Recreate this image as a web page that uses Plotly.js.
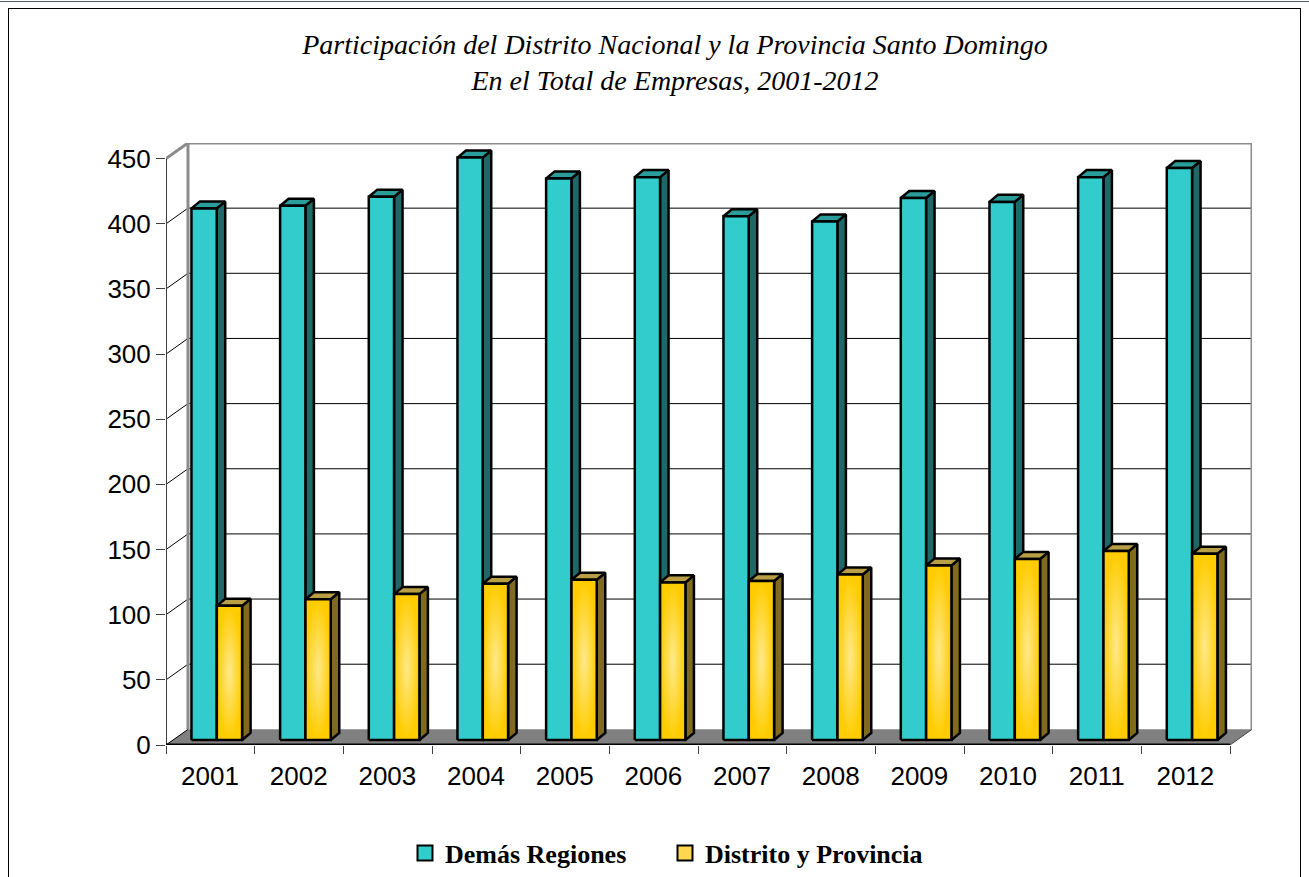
<!DOCTYPE html>
<html>
<head>
<meta charset="utf-8">
<script src="https://cdn.plot.ly/plotly-3.0.1.min.js"></script>
<style>
  html, body { margin: 0; padding: 0; background: #fff; }
  #wrap { position: relative; width: 1309px; height: 877px; overflow: hidden; }
  #chart { position: absolute; left: 0; top: 0; width: 1309px; height: 877px; }
  #frame { position: absolute; left: 8px; top: 8px; width: 1291px; height: 900px; border: 1px solid #000; pointer-events: none; }
  #topline { position: absolute; left: 0; top: 1px; width: 1309px; height: 1px; background: #4a5a6a; pointer-events: none; }
</style>
</head>
<body>
<div id="wrap">
  <div id="chart"></div>
  <div id="frame"></div>
  <div id="topline"></div>
</div>
<script>
// ---- Data ----
const categories = ['2001','2002','2003','2004','2005','2006','2007','2008','2009','2010','2011','2012'];
const demasRegiones = [408, 410, 417, 447, 431, 432, 402, 398, 416, 413, 432, 439];
const distritoProvincia = [103, 108, 112, 120, 123, 121, 122, 127, 134, 139, 145, 143];
const yTickValues = [0, 50, 100, 150, 200, 250, 300, 350, 400, 450];
const seriesNames = ['Demás Regiones', 'Distrito y Provincia'];

// ---- 3D look (style constants, in axis units) ----
const N = categories.length;
const XL = -0.5, XR = N - 0.5;
const BX = 0.248, BY = 12;          // back wall offset
const BAR_W = 0.285;
const OFF_A = -0.213, OFF_B = 0.073; // bar front-face left offsets
const BASE = 3.8;                    // bar base (depth into floor)
const SDX = 0.096, SDY = 5.4;        // bar depth
const YMAX = yTickValues[yTickValues.length - 1];

function faces(values, off, kind) {
  const xs = [], ys = [];
  values.forEach((v, i) => {
    const x0 = i + off, x1 = x0 + BAR_W, b = BASE, t = BASE + v;
    let px, py;
    if (kind === 'front') { px = [x0, x0, x1, x1, x0]; py = [b, t, t, b, b]; }
    else if (kind === 'side') { px = [x1, x1 + SDX, x1 + SDX, x1, x1]; py = [b, b + SDY, t + SDY, t, b]; }
    else { px = [x0, x0 + SDX, x1 + SDX, x1, x0]; py = [t, t + SDY, t + SDY, t, t]; }
    xs.push(...px, null); ys.push(...py, null);
  });
  return { x: xs, y: ys };
}

const LINE = { color: '#000', width: 2.5 };
function polyTrace(xy, color, extra) {
  return Object.assign({
    type: 'scatter', mode: 'lines', x: xy.x, y: xy.y, fill: 'toself', fillcolor: color,
    line: LINE, hoverinfo: 'skip', showlegend: false, connectgaps: false
  }, extra || {});
}

const traces = [];
// Series A (teal)
traces.push(polyTrace(faces(demasRegiones, OFF_A, 'side'), '#1F6868'));
traces.push(polyTrace(faces(demasRegiones, OFF_A, 'top'), '#2A9C9A'));
traces.push(polyTrace(faces(demasRegiones, OFF_A, 'front'), '#33CCCC'));
// Series B (yellow)
traces.push(polyTrace(faces(distritoProvincia, OFF_B, 'side'), '#7F6A1E'));
traces.push(polyTrace(faces(distritoProvincia, OFF_B, 'top'), '#B89E45'));
distritoProvincia.forEach((v, i) => {
  const one = faces([v], OFF_B + i, 'front');
  traces.push(polyTrace(one, '#FFCC00', {
    fillgradient: { type: 'radial', colorscale: [[0, '#FFE98A'], [1, '#FFCC00']] }
  }));
});
// Legend entries
traces.push({ type: 'scatter', mode: 'markers', x: [null], y: [null], name: seriesNames[0],
  marker: { symbol: 'square', size: 15, color: '#33CCCC', line: { color: '#000', width: 2 } } });
traces.push({ type: 'scatter', mode: 'markers', x: [null], y: [null], name: seriesNames[1],
  marker: { symbol: 'square', size: 15, color: '#FFD84D', line: { color: '#000', width: 2 } } });

// ---- Frame shapes (walls, floor, grid) ----
const shapes = [];
shapes.push({ type: 'path', xref: 'x', yref: 'y', layer: 'below',
  path: `M ${XL},0 L ${XR},0 L ${XR + BX},${BY} L ${XL + BX},${BY} Z`,
  fillcolor: '#808080', line: { width: 0 } });
yTickValues.forEach(v => {
  if (v > 0 && v < YMAX) {
    shapes.push({ type: 'line', xref: 'x', yref: 'y', layer: 'below',
      x0: XL + BX, x1: XR + BX, y0: v + BY, y1: v + BY, line: { color: '#000', width: 1 } });
  }
  if (v < YMAX) {
    shapes.push({ type: 'line', xref: 'x', yref: 'y', layer: 'below',
      x0: XL, x1: XL + BX, y0: v, y1: v + BY, line: { color: '#000', width: 1 } });
  }
});
const GRAY = { color: '#8c8c8c', width: 3 };
shapes.push({ type: 'line', xref: 'x', yref: 'y', layer: 'below', x0: XL + BX, x1: XL + BX, y0: BY, y1: YMAX + BY, line: GRAY });
shapes.push({ type: 'line', xref: 'x', yref: 'y', layer: 'below', x0: XL + BX, x1: XR + BX, y0: YMAX + BY, y1: YMAX + BY, line: GRAY });
shapes.push({ type: 'line', xref: 'x', yref: 'y', layer: 'below', x0: XR + BX, x1: XR + BX, y0: BY, y1: YMAX + BY, line: GRAY });
shapes.push({ type: 'line', xref: 'x', yref: 'y', layer: 'below', x0: XL, x1: XL + BX, y0: YMAX, y1: YMAX + BY, line: GRAY });
shapes.push({ type: 'line', xref: 'x', yref: 'y', layer: 'below', x0: XL, x1: XL, y0: 0, y1: YMAX, line: { color: '#404040', width: 2 } });
shapes.push({ type: 'line', xref: 'x', yref: 'y', layer: 'below', x0: XL, x1: XR, y0: 0, y1: 0, line: { color: '#000', width: 3 } });
shapes.push({ type: 'line', xref: 'x', yref: 'y', layer: 'below', x0: XR, x1: XR + BX, y0: 0, y1: BY, line: { color: '#404040', width: 1 } });

const xTickVals = categories.map((c, i) => i - 0.5).concat([XR]);
const xTickText = categories.concat(['']);

const layout = {
  width: 1309, height: 877, autosize: false,
  margin: { l: 166, r: 57, t: 143, b: 132, pad: 0, autoexpand: false },
  paper_bgcolor: 'rgba(0,0,0,0)', plot_bgcolor: 'rgba(0,0,0,0)',
  font: { family: 'Liberation Sans, Arial, sans-serif', color: '#000' },
  title: {
    text: 'Participación del Distrito Nacional y la Provincia Santo Domingo<br>En el Total de Empresas, 2001-2012',
    font: { family: 'Liberation Serif, Times New Roman, serif', size: 28, style: 'italic', color: '#000' },
    xref: 'container', yref: 'container', x: 675 / 1309, xanchor: 'center', y: 1 - 54 / 877, yanchor: 'top'
  },
  xaxis: {
    range: [XL, XR + BX], showgrid: false, zeroline: false, showline: false, fixedrange: true,
    tickmode: 'array', tickvals: xTickVals, ticktext: xTickText,
    ticks: 'outside', ticklen: 8, tickwidth: 1, tickcolor: '#404040',
    ticklabelshift: 44, tickfont: { size: 26, color: '#000' }
  },
  yaxis: {
    range: [0, YMAX + BY], showgrid: false, zeroline: false, showline: false, fixedrange: true,
    tickmode: 'array', tickvals: yTickValues, ticktext: yTickValues.map(String),
    ticks: 'outside', ticklen: 9, tickwidth: 1, tickcolor: '#404040',
    tickfont: { size: 26, color: '#000' }
  },
  shapes: shapes,
  showlegend: true,
  legend: {
    orientation: 'h', xref: 'container', yref: 'container',
    x: 665 / 1309, xanchor: 'center', y: 1 - 853 / 877, yanchor: 'middle',
    entrywidth: 215, entrywidthmode: 'pixels',
    font: { family: 'Liberation Serif, Times New Roman, serif', size: 26, weight: 'bold', color: '#000' },
    bgcolor: 'rgba(0,0,0,0)', itemclick: false, itemdoubleclick: false
  },
  hovermode: false
};

Plotly.newPlot('chart', traces, layout, { displayModeBar: false, staticPlot: true });
</script>
</body>
</html>
